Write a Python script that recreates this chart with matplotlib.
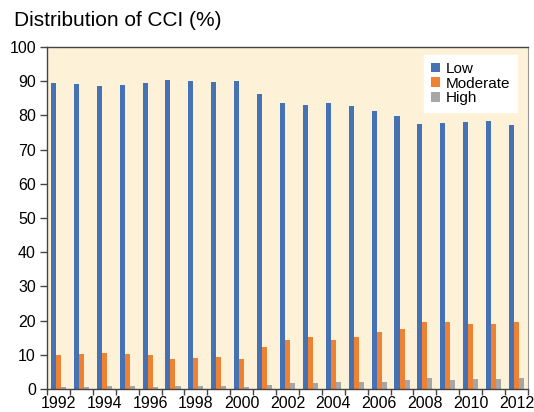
import numpy as np
import matplotlib.pyplot as plt

plt.rcParams['font.family'] = ['Liberation Sans', 'DejaVu Sans']

years = list(range(1992, 2013))
low = [89.4, 89.1, 88.6, 88.8, 89.4, 90.3, 90.1, 89.8, 90.2, 86.2,
       83.7, 83.0, 83.5, 82.7, 81.3, 79.9, 77.4, 77.8, 78.1, 78.5, 77.3]
moderate = [9.8, 10.2, 10.5, 10.2, 9.9, 8.7, 9.0, 9.3, 8.9, 12.2,
            14.4, 15.2, 14.4, 15.2, 16.7, 17.6, 19.6, 19.6, 19.1, 18.9, 19.6]
high = [0.6, 0.6, 0.8, 0.8, 0.6, 0.8, 0.8, 0.9, 0.6, 1.2,
        1.8, 1.8, 2.0, 2.0, 2.1, 2.6, 3.1, 2.6, 2.8, 2.8, 3.2]

c_low = '#4472b4'
c_mod = '#ef8133'
c_high = '#a6a6a6'

fig = plt.figure(figsize=(5.34, 4.12), dpi=100)
ax = fig.add_axes([47/534, 1 - 389/412, 481/534, 342/412])
ax.set_facecolor('#fdf1d8')

x = np.arange(len(years))
w = 0.22
ax.bar(x - w, low, w, color=c_low, label='Low')
ax.bar(x, moderate, w, color=c_mod, label='Moderate')
ax.bar(x + w, high, w, color=c_high, label='High')

ax.set_xlim(-0.5, len(years) - 0.5)
ax.set_ylim(0, 100)
ax.set_yticks(range(0, 101, 10))

ax.set_xticks(x[::2])
ax.set_xticklabels([str(y) for y in years[::2]])
ax.set_xticks(np.arange(-0.5, len(years), 1), minor=True)
ax.tick_params(axis='x', which='major', length=0, pad=5, labelsize=11.5)
ax.tick_params(axis='x', which='minor', length=4, width=1, color='#444444')
ax.tick_params(axis='y', length=5, width=1, color='#444444', labelsize=11.5, pad=3)

for s in ['left', 'bottom', 'top']:
    ax.spines[s].set_color('#444444')
    ax.spines[s].set_linewidth(1)
ax.spines['right'].set_color('#999999')

leg = ax.legend(loc='upper right', bbox_to_anchor=(0.977, 0.977), frameon=True,
                fancybox=False, edgecolor='white', framealpha=1, fontsize=11,
                handlelength=0.6, handleheight=0.6, handletextpad=0.35,
                labelspacing=0.05, borderpad=0.45, borderaxespad=0)

fig.text(14/534, 1 - 21/412, 'Distribution of CCI (%)', fontsize=15, va='center', ha='left')

fig.savefig('out.png', dpi=100)
